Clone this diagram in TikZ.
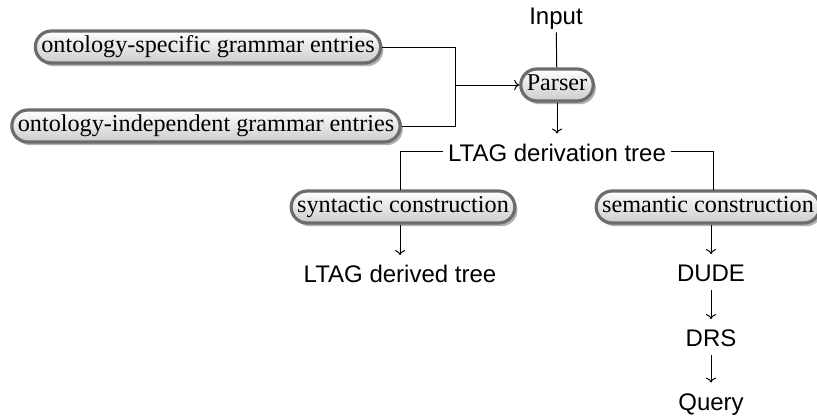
\documentclass[tikz,border=0pt]{standalone}
\usepackage{fontspec}
\setmainfont{Liberation Serif}
\newfontfamily\labelfont{Liberation Sans}
\usetikzlibrary{shadows,arrows.meta}
\tikzset{
  stage/.style={draw=gray!85!black, line width=1.6pt, rounded corners=8pt,
    top color=white, bottom color=gray!40, inner xsep=3pt, inner ysep=0pt,
    minimum height=16pt, text height=8.8pt, text depth=2.9pt,
    font=\fontsize{12.1}{13}\selectfont,
    drop shadow={shadow xshift=1.3pt, shadow yshift=-1.6pt, fill=gray!75, opacity=0.8}},
  plain/.style={font=\labelfont\fontsize{12}{14}\selectfont, inner xsep=2.5pt,
    inner ysep=2.5pt, text height=11pt, text depth=1.5pt},
  link/.style={line width=0.5pt, black},
  flow/.style={link, -{To[length=2.5pt,width=5pt]}}
}
\begin{document}
\begin{tikzpicture}[x=0.5pt,y=-0.5pt]
  \useasboundingbox (0,0) rectangle (817,419);

  % inputs and parser
  \node[plain] (input) at (556,14.5) {Input};
  \node[stage] (parser) at (557,85) {Parser};
  \node[stage] (ospec) at (208,47) {ontology-specific grammar entries};
  \node[stage] (oind) at (206,126) {ontology-independent grammar entries};
  \coordinate (join) at (455,85);

  % derivation tree and its two branches
  \node[plain] (deriv) at (557,151.5) {LTAG derivation tree};
  \node[stage] (syn) at (403,207) {syntactic construction};
  \node[stage] (sem) at (708,207) {semantic construction};
  \coordinate (synTop) at (400,190);
  \coordinate (semTop) at (713,190);

  % outputs
  \node[plain] (derived) at (400,273) {LTAG derived tree};
  \node[plain] (dude) at (711,272) {DUDE};
  \node[plain] (drs) at (711,337) {DRS};
  \node[plain] (query) at (711,400.5) {Query};

  % connectors
  \draw[link] (input) -- (parser);
  \draw[link] (ospec.east) -| (join);
  \draw[link] (oind.east) -| (join);
  \draw[flow] (join) -- (parser.west);
  \draw[flow] (parser.south) -- (parser.south |- deriv.north);
  \draw[link] (deriv.west) -| (synTop);
  \draw[link] (deriv.east) -| (semTop);
  \draw[flow] (syn.south -| derived.north) -- (derived.north);
  \draw[flow] (sem.south -| dude.north) -- (dude.north);
  \draw[flow] (dude) -- (drs);
  \draw[flow] (drs) -- (query);
\end{tikzpicture}
\end{document}
